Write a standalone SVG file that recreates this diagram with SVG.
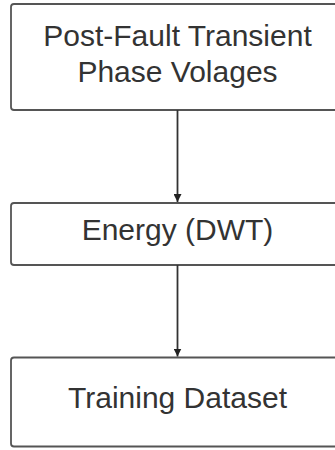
<svg xmlns="http://www.w3.org/2000/svg" width="335" height="450" viewBox="0 0 335 450">
<style>
.box{fill:#fff;stroke:#555;stroke-width:1.8}
.t{font-family:"Liberation Sans",Arial,sans-serif;font-size:30px;fill:#333;text-anchor:middle}
.c{stroke:#333;stroke-width:1.8;fill:none}
</style>
<defs>
<marker id="ah" viewBox="0 0 10 10" refX="10" refY="5" markerWidth="8" markerHeight="8" orient="auto" markerUnits="userSpaceOnUse">
<path d="M0,0L10,5L0,10z" fill="#222"/>
</marker>
</defs>
<rect width="335" height="450" fill="#fff"/>
<g id="n1"><rect class="box" x="11" y="4" width="333" height="106" rx="3"/>
<text class="t" x="177.5" y="46">Post-Fault Transient</text>
<text class="t" x="177.5" y="82">Phase Volages</text></g>
<g id="n2"><rect class="box" x="11" y="203" width="333" height="62" rx="3"/>
<text class="t" x="177.5" y="239.5">Energy (DWT)</text></g>
<g id="n3"><rect class="box" x="11" y="357.5" width="333" height="89" rx="3"/>
<text class="t" x="177.5" y="408">Training Dataset</text></g>
<g id="connectors">
<line class="c" x1="177.5" y1="110" x2="177.5" y2="202" marker-end="url(#ah)"/>
<line class="c" x1="177.5" y1="265" x2="177.5" y2="356.5" marker-end="url(#ah)"/>
</g>
</svg>
